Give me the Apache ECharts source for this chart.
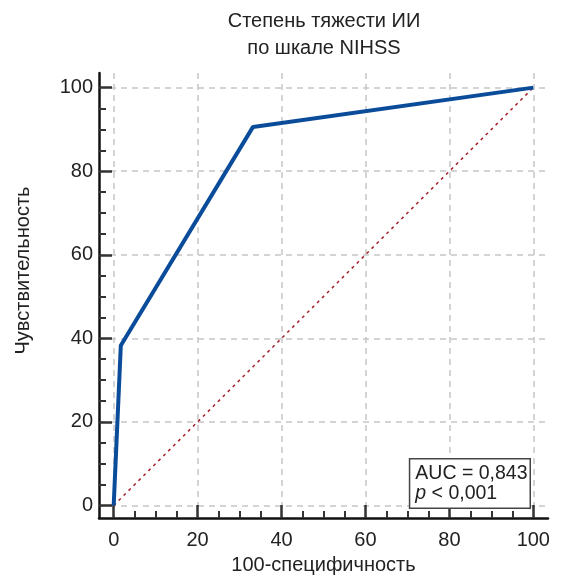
<!DOCTYPE html>
<html><head><meta charset="utf-8">
<script src="https://cdn.jsdelivr.net/npm/echarts@6/dist/echarts.min.js"></script>
<style>html,body{margin:0;padding:0;background:#fff}#c{width:561px;height:580px}</style>
</head><body><div id="c"></div>
<script>
// ---- data ----
const rocFpr = [0, 1.7, 33.2, 100];
const rocTpr = [0, 38.3, 90.6, 100];
const refFpr = [0, 100];
const refTpr = [0, 100];
const tickValues = [0, 20, 40, 60, 80, 100];
const titleLines = ['Степень тяжести ИИ', 'по шкале NIHSS'];
const xName = '100-специфичность';
const yName = 'Чувствительность';
const aucLabel = 'AUC = 0,843';
const pLabel = '< 0,001';

const FONT = '"Liberation Sans", Arial, Helvetica, sans-serif';
const chart = echarts.init(document.getElementById('c'), null, {renderer: 'canvas'});

function makeAxis(name, gap, min, max, margin, namePad) {
  return {
    type: 'value', min: min, max: max,
    name: name, nameLocation: 'middle', nameGap: gap,
    nameTextStyle: {fontSize: 20, color: '#222', fontFamily: FONT, padding: namePad},
    axisLine: {show: true, onZero: false, lineStyle: {color: '#111', width: 2.5}},
    axisTick: {show: true, inside: true, length: 13, customValues: tickValues,
      lineStyle: {color: '#333', width: 2.5}},
    minorTick: {show: true, splitNumber: 4, length: 7, lineStyle: {color: '#333', width: 2}},
    axisLabel: {customValues: tickValues, fontSize: 20, color: '#222', fontFamily: FONT,
      margin: margin},
    splitLine: {show: true, lineStyle: {color: '#c6c6c6', type: [6, 5], width: 1.5}},
    minorSplitLine: {show: false}
  };
}

const option = {
  backgroundColor: '#fff',
  animation: false,
  grid: {left: 99, top: 73, right: 13, bottom: 60, containLabel: false},
  xAxis: makeAxis(xName, 37, -3.5, 103.5, 12, [0, 0, 0, 0]),
  yAxis: makeAxis(yName, 66, -3, 103.5, 6, [0, 0, 0, 50]),
  graphic: [
    {type: 'text', x: 324, y: 7.5, z: 10,
      style: {text: titleLines.join('\n'), font: '20px ' + FONT, fill: '#222',
        textAlign: 'center', lineHeight: 27}},
    {type: 'text', right: 30, bottom: 71, z: 10,
      style: {text: aucLabel + '\n{i|p} ' + pLabel, font: '19.5px ' + FONT, fill: '#222',
        lineHeight: 20, backgroundColor: '#fff', borderColor: '#444', borderWidth: 1.5,
        padding: [4, 2, 4, 5],
        rich: {i: {fontStyle: 'italic', fontSize: 19.5, fontFamily: FONT, fill: '#222', lineHeight: 20}}}}
  ],
  series: [
    {type: 'line', name: 'ref', symbol: 'none', z: 2,
      data: refFpr.map((v, i) => [v, refTpr[i]]),
      lineStyle: {color: '#a81e24', width: 1.5, type: [3, 4]}},
    {type: 'line', name: 'roc', symbol: 'none', z: 3,
      data: rocFpr.map((v, i) => [v, rocTpr[i]]),
      lineStyle: {color: '#0a4c9a', width: 4}}
  ]
};
chart.setOption(option);
</script></body></html>
